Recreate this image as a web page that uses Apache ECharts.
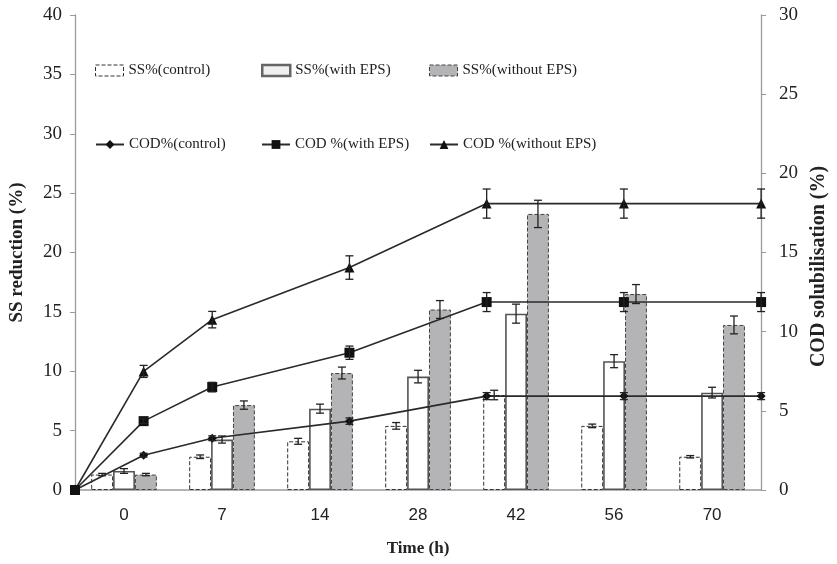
<!DOCTYPE html>
<html>
<head>
<meta charset="utf-8">
<script src="https://cdn.jsdelivr.net/npm/echarts@6/dist/echarts.min.js"></script>
<style>html,body{margin:0;padding:0;background:#fff}#c{width:837px;height:564px}</style>
</head>
<body>
<div id="c"></div>
<script>
const categories = ['0', '7', '14', '28', '42', '56', '70'];
const times = [0, 7, 14, 28, 42, 56, 70];
const ssControl = [1.3, 2.8, 4.1, 5.4, 8.0, 5.4, 2.8];
const ssControlErr = [0.1, 0.15, 0.25, 0.28, 0.4, 0.15, 0.1];
const ssWithEPS = [1.6, 4.25, 6.85, 9.55, 14.85, 10.85, 8.2];
const ssWithEPSErr = [0.2, 0.3, 0.38, 0.53, 0.8, 0.55, 0.45];
const ssWithoutEPS = [1.3, 7.15, 9.85, 15.2, 23.25, 16.5, 13.9];
const ssWithoutEPSErr = [0.1, 0.35, 0.5, 0.75, 1.15, 0.8, 0.75];
const codControl = [0, 2.2, 3.27, 4.35, 5.93, 5.93, 5.93];
const codControlErr = [0, 0.12, 0.15, 0.2, 0.22, 0.22, 0.22];
const codWithEPS = [0, 4.35, 6.5, 8.67, 11.87, 11.87, 11.87];
const codWithEPSErr = [0, 0.15, 0.3, 0.42, 0.6, 0.6, 0.6];
const codWithoutEPS = [0, 7.49, 10.76, 14.05, 18.09, 18.09, 18.09];
const codWithoutEPSErr = [0, 0.38, 0.52, 0.74, 0.92, 0.92, 0.92];
const leftTicks = {min: 0, max: 40, interval: 5};
const rightTicks = {min: 0, max: 30, interval: 5};

const SERIF = "'Liberation Serif','Times New Roman',serif";
const SANS = "'Liberation Sans','Open Sans',sans-serif";
const INK = '#222';
const GAPFRAC = 0.67;

function capLines(x, y1, y2, hw) {
  const st = {stroke: INK, lineWidth: 1.3};
  return [
    {type: 'line', shape: {x1: x, y1: y1, x2: x, y2: y2}, style: st},
    {type: 'line', shape: {x1: x - hw, y1: y1, x2: x + hw, y2: y1}, style: st},
    {type: 'line', shape: {x1: x - hw, y1: y2, x2: x + hw, y2: y2}, style: st}
  ];
}

function barErr(idx, vals, errs) {
  return {
    type: 'custom', xAxisIndex: 0, yAxisIndex: 0, z: 5, silent: true,
    data: vals.map((v, i) => [i, v, errs[i]]),
    renderItem: function (params, api) {
      const c = api.value(0), v = api.value(1), e = api.value(2);
      const bw = api.size([1, 0])[0];
      const off = (idx - 1) * bw * GAPFRAC / 3;
      const top = api.coord([c, v + e]);
      const bot = api.coord([c, v - e]);
      return {type: 'group', children: capLines(top[0] + off, top[1], bot[1], 4)};
    }
  };
}

function lineErr(vals, errs) {
  return {
    type: 'custom', xAxisIndex: 1, yAxisIndex: 1, z: 6, silent: true,
    data: vals.map((v, i) => [times[i], v, errs[i]]),
    renderItem: function (params, api) {
      const t = api.value(0), v = api.value(1), e = api.value(2);
      if (!e) return null;
      const top = api.coord([t, v + e]);
      const bot = api.coord([t, v - e]);
      return {type: 'group', children: capLines(top[0], top[1], bot[1], 4)};
    }
  };
}

function lineSeries(name, vals, symbol, size) {
  return {
    name: name, type: 'line', xAxisIndex: 1, yAxisIndex: 1, z: 4,
    data: vals.map((v, i) => [times[i], v]),
    symbol: symbol, symbolSize: size, showSymbol: true,
    lineStyle: {color: '#2a2a2a', width: 1.6},
    itemStyle: {color: '#111'}
  };
}

const barStyles = [
  {color: '#fff', borderColor: '#333', borderWidth: 1, borderType: 'dashed'},
  {color: '#fff', borderColor: '#555', borderWidth: 1.6, borderType: 'solid'},
  {color: '#b4b4b6', borderColor: '#444', borderWidth: 1, borderType: 'dashed'}
];
const legendBarStyles = [
  {color: '#fff', borderColor: '#333', borderWidth: 1, borderType: 'dashed'},
  {color: '#f0f0f0', borderColor: '#666', borderWidth: 2.5, borderType: 'solid'},
  {color: '#b4b4b6', borderColor: '#444', borderWidth: 1, borderType: 'dashed'}
];

function legendItem(name, left, top, itemStyle) {
  const d = {name: name};
  if (itemStyle) { d.itemStyle = itemStyle; d.icon = 'rect'; }
  return {
    data: [d], left: left, top: top, orient: 'horizontal',
    itemWidth: 28, itemHeight: 11, selectedMode: false,
    textStyle: {fontFamily: SERIF, fontSize: 15, color: INK}
  };
}

const option = {
  animation: false,
  backgroundColor: '#fff',
  grid: {left: 75, right: 69, top: 15, bottom: 74},
  legend: [
    legendItem('SS%(control)', 90, 58, legendBarStyles[0]),
    legendItem('SS%(with EPS)', 256, 58, legendBarStyles[1]),
    legendItem('SS%(without EPS)', 424, 58, legendBarStyles[2]),
    legendItem('COD%(control)', 90, 132),
    legendItem('COD %(with EPS)', 256, 132),
    legendItem('COD %(without EPS)', 424, 132)
  ],
  xAxis: [
    {
      type: 'category', data: categories, position: 'bottom',
      name: 'Time (h)', nameLocation: 'middle', nameGap: 50,
      nameTextStyle: {fontFamily: SERIF, fontSize: 17, fontWeight: 'bold', color: INK},
      axisLine: {lineStyle: {color: '#9a9a9a', width: 1.5}},
      axisTick: {alignWithLabel: true, length: 12, lineStyle: {color: '#333', width: 1.3}},
      axisLabel: {fontFamily: SANS, fontSize: 17, color: INK, margin: 17},
      splitLine: {show: false}
    },
    {
      type: 'value', min: 0, max: 70, show: false, splitLine: {show: false}
    }
  ],
  yAxis: [
    {
      type: 'value', position: 'left', min: leftTicks.min, max: leftTicks.max, interval: leftTicks.interval,
      name: 'SS reduction (%)', nameLocation: 'middle', nameGap: 48,
      nameTextStyle: {fontFamily: SERIF, fontSize: 19, fontWeight: 'bold', color: INK},
      axisLine: {show: true, lineStyle: {color: '#9a9a9a', width: 1.3}},
      axisTick: {show: true, length: 5, lineStyle: {color: '#9a9a9a'}},
      axisLabel: {fontFamily: SERIF, fontSize: 19, color: INK, margin: 13},
      splitLine: {show: false}
    },
    {
      type: 'value', position: 'right', min: rightTicks.min, max: rightTicks.max, interval: rightTicks.interval,
      name: 'COD solubilisation (%)', nameLocation: 'middle', nameGap: 47,
      nameTextStyle: {fontFamily: SERIF, fontSize: 20, fontWeight: 'bold', color: INK, padding: [0, 28, 0, 0]},
      axisLine: {show: true, lineStyle: {color: '#9a9a9a', width: 1.3}},
      axisTick: {show: true, length: 5, lineStyle: {color: '#9a9a9a'}},
      axisLabel: {fontFamily: SERIF, fontSize: 19, color: INK, margin: 18},
      splitLine: {show: false}
    }
  ],
  series: [
    {name: 'SS%(control)', type: 'bar', xAxisIndex: 0, yAxisIndex: 0, data: ssControl,
     barGap: '0%', barCategoryGap: '33%', itemStyle: barStyles[0], z: 2},
    {name: 'SS%(with EPS)', type: 'bar', xAxisIndex: 0, yAxisIndex: 0, data: ssWithEPS,
     barGap: '0%', barCategoryGap: '33%', itemStyle: barStyles[1], z: 2},
    {name: 'SS%(without EPS)', type: 'bar', xAxisIndex: 0, yAxisIndex: 0, data: ssWithoutEPS,
     barGap: '0%', barCategoryGap: '33%', itemStyle: barStyles[2], z: 2},
    barErr(0, ssControl, ssControlErr),
    barErr(1, ssWithEPS, ssWithEPSErr),
    barErr(2, ssWithoutEPS, ssWithoutEPSErr),
    lineSeries('COD%(control)', codControl, 'diamond', 9),
    lineSeries('COD %(without EPS)', codWithoutEPS, 'triangle', 10),
    lineSeries('COD %(with EPS)', codWithEPS, 'rect', 10),
    lineErr(codControl, codControlErr),
    lineErr(codWithEPS, codWithEPSErr),
    lineErr(codWithoutEPS, codWithoutEPSErr)
  ]
};

const chart = echarts.init(document.getElementById('c'), null, {renderer: 'canvas'});
chart.setOption(option);
</script>
</body>
</html>
